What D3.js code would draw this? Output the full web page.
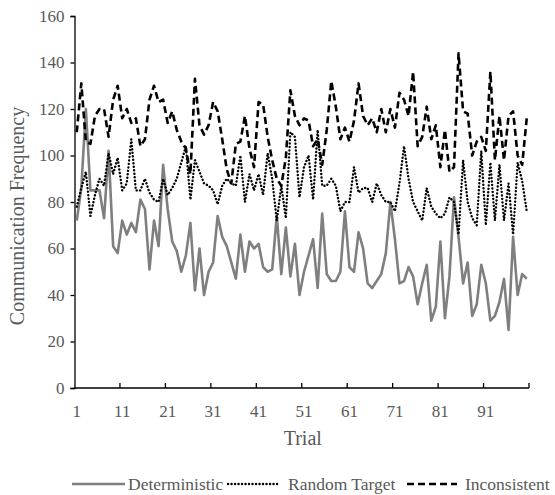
<!DOCTYPE html>
<html>
<head>
<meta charset="utf-8">
<script src="https://cdn.jsdelivr.net/npm/d3@7"></script>
<style>
  body { margin: 0; background: #fff; }
  text { font-family: "Liberation Serif", "Times New Roman", serif; fill: #595959; }
</style>
</head>
<body>
<svg id="chart" width="555" height="495"></svg>
<script>
// trials 1..100
var trials = d3.range(1, 101);
var tickTrials = [1, 11, 21, 31, 41, 51, 61, 71, 81, 91];
var yTicks = [0, 20, 40, 60, 80, 100, 120, 140, 160];
var seriesNames = ["Deterministic", "Random Target", "Inconsistent"];

var deterministic = [
  72, 86, 120, 85, 85, 85, 73, 102, 61, 58,
  72, 66, 71, 67, 81, 77, 51, 72, 61, 96,
  77, 63, 59, 50, 57, 71, 42, 60, 40, 50,
  54, 74, 65, 61, 54, 47, 66, 50, 63, 60,
  62, 52, 50, 51, 74, 49, 69, 48, 62, 40,
  50, 57, 64, 43, 75, 49, 46, 46, 50, 76,
  52, 50, 67, 60, 45, 43, 46, 49, 58, 80,
  64, 45, 46, 52, 48, 36, 45, 53, 29, 35,
  63, 30, 48, 82, 65, 45, 54, 31, 36, 53,
  45, 29, 31, 37, 47, 25, 65, 40, 49, 47
];
var randomTarget = [
  78, 86, 93, 74, 83, 90, 87, 101, 92, 99,
  85, 88, 107, 85, 85, 90, 84, 81, 80, 90,
  83, 86, 90, 97, 104, 81, 98, 93, 88, 87,
  85, 79, 87, 90, 88, 87, 100, 80, 92, 85,
  92, 83, 101, 90, 72, 87, 73, 110, 108, 82,
  95, 100, 81, 111, 87, 87, 90, 87, 76, 80,
  80, 95, 84, 86, 86, 80, 88, 83, 80, 80,
  76, 88, 104, 90, 80, 76, 72, 86, 78, 75,
  73, 75, 82, 80, 66, 98, 80, 73, 70, 102,
  70, 97, 72, 96, 72, 88, 66, 97, 89, 76
];
var inconsistent = [
  110, 131, 106, 105, 117, 120, 120, 108, 124, 130,
  116, 120, 114, 116, 104, 107, 124, 130, 123, 124,
  114, 119, 111, 106, 103, 92, 133, 113, 109, 113,
  123, 119, 107, 94, 88, 105, 106, 117, 103, 95,
  123, 122, 108, 98, 90, 87, 99, 128, 117, 113,
  116, 115, 104, 107, 96, 111, 132, 121, 107, 112,
  106, 115, 131, 117, 113, 116, 110, 120, 110, 120,
  112, 127, 124, 117, 136, 104, 108, 121, 107, 113,
  95, 111, 93, 95, 144, 119, 118, 100, 106, 108,
  102, 136, 98, 117, 98, 117, 119, 100, 96, 116
];

var svg = d3.select("#chart");
var plotLeft = 74.5, plotRight = 529, plotTop = 16, plotBottom = 388;

var x = d3.scaleBand().domain(trials).range([plotLeft, plotRight]);
var y = d3.scaleLinear().domain([0, 160]).range([plotBottom, plotTop]);
var cx = function(t) { return x(t) + x.bandwidth() / 2; };

// y axis
var yAxis = svg.append("g")
  .attr("transform", "translate(" + plotLeft + ",0)")
  .call(d3.axisLeft(y).tickValues(yTicks).tickSize(4).tickPadding(6));
yAxis.select(".domain").attr("stroke", "#000").attr("stroke-width", 1.3);
yAxis.selectAll(".tick line").attr("stroke", "#000").attr("stroke-width", 1.3);
yAxis.selectAll(".tick text").style("font-size", "17px")
  .style("font-family", "Liberation Serif").attr("fill", "#595959");

// x axis: ticks on category boundaries every 10 trials, labels on categories
var xg = svg.append("g").attr("transform", "translate(0," + plotBottom + ")");
xg.append("line").attr("x1", plotLeft).attr("x2", plotRight)
  .attr("stroke", "#000").attr("stroke-width", 1.3);
xg.selectAll("line.tk").data(d3.range(1, 11)).enter().append("line")
  .attr("class", "tk")
  .attr("x1", function(k) { return x(k * 10) + x.bandwidth(); })
  .attr("x2", function(k) { return x(k * 10) + x.bandwidth(); })
  .attr("y1", 0).attr("y2", -5)
  .attr("stroke", "#000").attr("stroke-width", 1.3);
xg.selectAll("text").data(tickTrials).enter().append("text")
  .attr("x", cx).attr("y", 29)
  .attr("text-anchor", "middle")
  .style("font-size", "17px")
  .text(function(d) { return d; });

// axis titles
svg.append("text").attr("x", (plotLeft + plotRight) / 2 + 1).attr("y", 445)
  .attr("text-anchor", "middle").style("font-size", "20px").text("Trial");
svg.append("text")
  .attr("transform", "translate(24," + ((plotTop + plotBottom) / 2 + 14) + ") rotate(-90)")
  .attr("text-anchor", "middle").style("font-size", "20px").text("Communication Frequency");

var styles = [
  { color: "#7f7f7f", width: 2.6, dash: null, cap: "butt" },
  { color: "#000", width: 2.4, dash: "0.1,3.4", cap: "round" },
  { color: "#000", width: 2.6, dash: "7,4", cap: "butt" }
];
var allSeries = [deterministic, randomTarget, inconsistent];

var line = d3.line()
  .x(function(d, i) { return cx(trials[i]); })
  .y(function(d) { return y(d); });

// draw Deterministic first, then dotted, then dashed on top
allSeries.forEach(function(s, i) {
  svg.append("path").datum(s)
    .attr("fill", "none")
    .attr("stroke", styles[i].color)
    .attr("stroke-width", styles[i].width)
    .attr("stroke-dasharray", styles[i].dash)
    .attr("stroke-linecap", styles[i].cap)
    .attr("stroke-linejoin", "round")
    .attr("d", line);
});

// legend
var legX = [72, 228, 407];
var legW = [53, 50, 50];
var legTextX = [128, 288, 465];
var legY = 484;
seriesNames.forEach(function(name, i) {
  svg.append("line")
    .attr("x1", legX[i]).attr("x2", legX[i] + legW[i])
    .attr("y1", legY).attr("y2", legY)
    .attr("stroke", styles[i].color)
    .attr("stroke-width", styles[i].width)
    .attr("stroke-dasharray", styles[i].dash)
    .attr("stroke-linecap", styles[i].cap);
  svg.append("text").attr("x", legTextX[i]).attr("y", legY + 6)
    .style("font-size", "17.5px").text(name);
});
</script>
</body>
</html>
